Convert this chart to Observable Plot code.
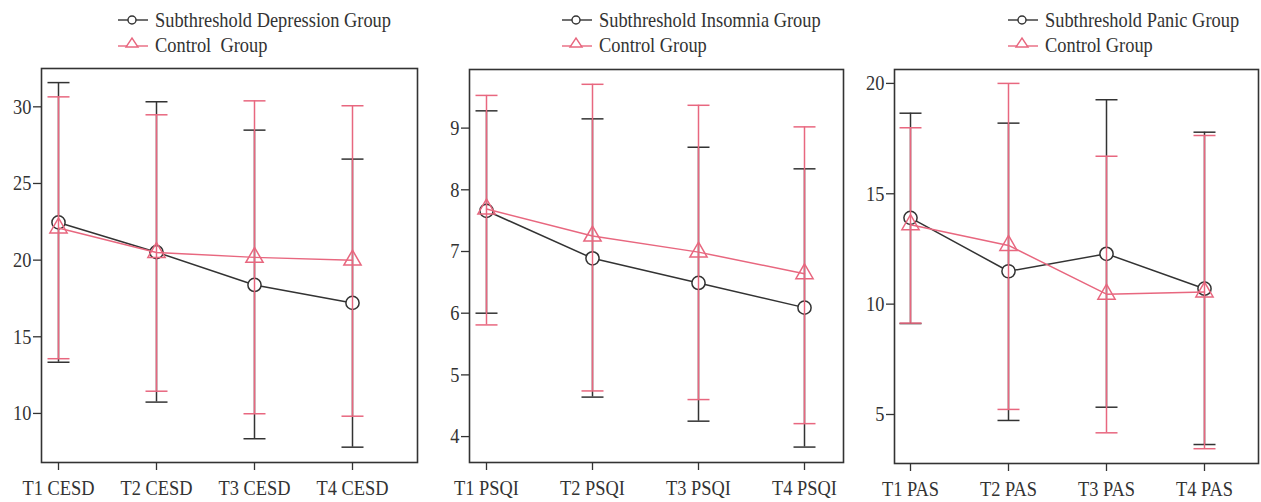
<!DOCTYPE html>
<html><head><meta charset="utf-8">
<script src="https://cdn.jsdelivr.net/npm/d3@7"></script>
<script src="https://cdn.jsdelivr.net/npm/@observablehq/plot@0.6"></script>
<style>
body{margin:0;background:#fff;}
#root{position:relative;width:1261px;height:502px;overflow:hidden;font-family:"Liberation Serif","Times New Roman",serif;color:#333;background:#fff;}
.panel{position:absolute;top:0;}
.leg{position:absolute;font-size:18.4px;line-height:20px;height:20px;white-space:nowrap;display:flex;align-items:center;color:#333;}
.leg svg{margin-right:7px;overflow:visible;}
.leg span{display:inline-block;transform:scaleY(1.18);transform-origin:center;}
</style></head><body><div id="root"></div>
<script>
const BLACK = "#333333", PINK = "#e8677f";

// ---- Panel 1: CESD ----
const cesdLabels = ["T1 CESD", "T2 CESD", "T3 CESD", "T4 CESD"];
const cesdSubMean = [22.46, 20.52, 18.38, 17.21];
const cesdSubLow = [13.34, 10.74, 8.35, 7.8];
const cesdSubHigh = [31.58, 30.33, 28.48, 26.59];
const cesdCtrlMean = [22.1, 20.5, 20.18, 20.0];
const cesdCtrlLow = [13.57, 11.45, 9.98, 9.82];
const cesdCtrlHigh = [30.65, 29.48, 30.39, 30.07];
const cesdTicks = [10, 15, 20, 25, 30];
const cesdLegend = ["Subthreshold Depression Group", "Control  Group"];

// ---- Panel 2: PSQI ----
const psqiLabels = ["T1 PSQI", "T2 PSQI", "T3 PSQI", "T4 PSQI"];
const psqiSubMean = [7.66, 6.89, 6.49, 6.09];
const psqiSubLow = [6.0, 4.64, 4.25, 3.83];
const psqiSubHigh = [9.28, 9.15, 8.69, 8.34];
const psqiCtrlMean = [7.69, 7.25, 6.99, 6.64];
const psqiCtrlLow = [5.81, 4.74, 4.6, 4.21];
const psqiCtrlHigh = [9.53, 9.71, 9.37, 9.02];
const psqiTicks = [4, 5, 6, 7, 8, 9];
const psqiLegend = ["Subthreshold Insomnia Group", "Control Group"];

// ---- Panel 3: PAS ----
const pasLabels = ["T1 PAS", "T2 PAS", "T3 PAS", "T4 PAS"];
const pasSubMean = [13.91, 11.49, 12.28, 10.7];
const pasSubLow = [9.12, 4.73, 5.33, 3.64];
const pasSubHigh = [18.65, 18.2, 19.26, 17.79];
const pasCtrlMean = [13.6, 12.66, 10.45, 10.55];
const pasCtrlLow = [9.14, 5.23, 4.17, 3.45];
const pasCtrlHigh = [17.99, 20.0, 16.7, 17.64];
const pasTicks = [5, 10, 15, 20];
const pasLegend = ["Subthreshold Panic Group", "Control Group"];

function rows(labels, mean, low, high) {
  return labels.map((t, i) => ({t, mean: mean[i], low: low[i], high: high[i]}));
}

const panels = [
  {left: 0, width: 420, marginLeft: 41, marginRight: 3, marginTop: 68, marginBottom: 40, xRange: [57, 353], yDomain: [6.8, 32.5],
   labels: cesdLabels, ticks: cesdTicks, legend: cesdLegend, legX: 118,
   sub: rows(cesdLabels, cesdSubMean, cesdSubLow, cesdSubHigh), ctl: rows(cesdLabels, cesdCtrlMean, cesdCtrlLow, cesdCtrlHigh)},
  {left: 420, width: 426, marginLeft: 49, marginRight: 3, marginTop: 69, marginBottom: 40, xRange: [65, 385], yDomain: [3.58, 9.95],
   labels: psqiLabels, ticks: psqiTicks, legend: psqiLegend, legX: 562,
   sub: rows(psqiLabels, psqiSubMean, psqiSubLow, psqiSubHigh), ctl: rows(psqiLabels, psqiCtrlMean, psqiCtrlLow, psqiCtrlHigh)},
  {left: 846, width: 415, marginLeft: 48, marginRight: 3, marginTop: 69, marginBottom: 39, xRange: [63, 359], yDomain: [2.78, 20.63],
   labels: pasLabels, ticks: pasTicks, legend: pasLegend, legX: 1008,
   sub: rows(pasLabels, pasSubMean, pasSubLow, pasSubHigh), ctl: rows(pasLabels, pasCtrlMean, pasCtrlLow, pasCtrlHigh)}
];

// horizontal cap symbol for error bars
const capSymbol = {draw(context) { context.moveTo(-11, 0); context.lineTo(11, 0); }};

const root = document.getElementById("root");

function seriesMarks(data, color, symbol, r, fill) {
  const sw = 1.5;
  return [
    Plot.ruleX(data, {x: "t", y1: "low", y2: "high", stroke: color, strokeWidth: sw}),
    Plot.dot(data, {x: "t", y: "low", symbol: capSymbol, r: 5, stroke: color, fill: "none", strokeWidth: sw}),
    Plot.dot(data, {x: "t", y: "high", symbol: capSymbol, r: 5, stroke: color, fill: "none", strokeWidth: sw}),
    Plot.line(data, {x: "t", y: "mean", stroke: color, strokeWidth: sw}),
    Plot.dot(data, {x: "t", y: "mean", symbol, r, stroke: color, fill, strokeWidth: sw})
  ];
}

for (const p of panels) {
  const chart = Plot.plot({
    width: p.width, height: 502,
    marginLeft: p.marginLeft, marginRight: p.marginRight, marginTop: p.marginTop, marginBottom: p.marginBottom,
    style: {fontFamily: '"Liberation Serif", "Times New Roman", serif', fontSize: "18.4px", color: "#333", background: "transparent", overflow: "visible"},
    x: {type: "point", domain: p.labels, range: p.xRange, padding: 0, align: 0.5},
    y: {domain: p.yDomain},
    marks: [
      Plot.axisY({ticks: p.ticks, tickFormat: d => String(d), tickSize: 8, tickPadding: 2, strokeWidth: 1.3, label: null}),
      Plot.axisX({tickSize: 8, tickPadding: 11, strokeWidth: 1.3, label: null}),
      ...seriesMarks(p.sub, BLACK, "circle", 6.6, "white"),
      ...seriesMarks(p.ctl, PINK, "triangle", 6.4, "none"),
      Plot.frame({stroke: "#333", strokeWidth: 1.6})
    ]
  });
  chart.classList.add("panel");
  chart.style.left = p.left + "px";
  root.appendChild(chart);

  // stretch the axis text slightly taller around its own centre (the reference font is tall and narrow)
  chart.querySelectorAll("text").forEach(t => {
    try {
      const b = t.getBBox();
      const cx = b.x + b.width / 2, cy = b.y + b.height / 2;
      const prev = t.getAttribute("transform") || "";
      t.setAttribute("transform", `${prev} translate(${cx},${cy}) scale(1,1.15) translate(${-cx},${-cy})`);
    } catch (e) {}
  });

  // legend
  const rowsY = [19.5, 45];
  p.legend.forEach((label, i) => {
    const div = document.createElement("div");
    div.className = "leg";
    div.style.left = p.legX + "px";
    div.style.top = (rowsY[i] - 10) + "px";
    const color = i === 0 ? BLACK : PINK;
    const svg = d3.create("svg").attr("width", 30).attr("height", 20);
    const ly = i === 0 ? 10 : 11;
    svg.append("line").attr("x1", 0).attr("x2", 30).attr("y1", ly).attr("y2", ly).attr("stroke", color).attr("stroke-width", 1.4);
    if (i === 0) {
      svg.append("circle").attr("cx", 14).attr("cy", ly).attr("r", 4).attr("fill", "white").attr("stroke", color).attr("stroke-width", 1.4);
    } else {
      svg.append("path").attr("d", `M${14 - 6},${ly + 1}L${14 + 6},${ly + 1}L14,${ly - 8}Z`).attr("fill", "white").attr("stroke", color).attr("stroke-width", 1.4);
    }
    div.appendChild(svg.node());
    const span = document.createElement("span");
    span.textContent = label;
    span.style.whiteSpace = "pre";
    div.appendChild(span);
    root.appendChild(div);
  });
}
</script></body></html>
